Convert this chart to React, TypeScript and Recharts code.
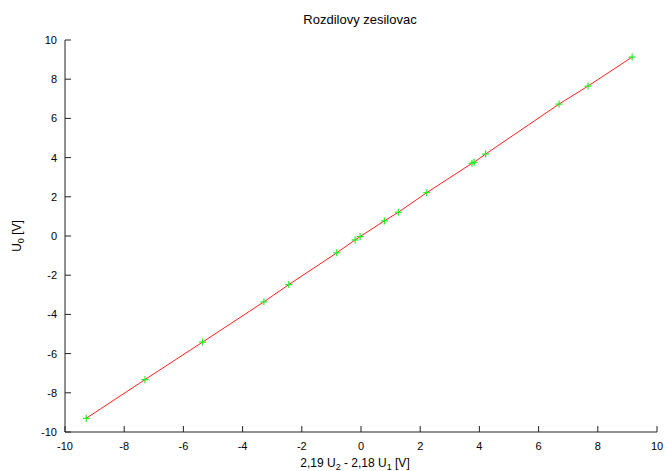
import React from 'react';
import { ComposedChart, Line, XAxis, YAxis, Label } from 'recharts';

// measured differences 2,19 U2 - 2,18 U1 and output U0
const diffInput = [-9.28, -7.3, -5.35, -3.28, -2.44, -0.82, -0.2, -0.03, 0.79, 1.26, 2.22, 3.75, 3.82, 4.21, 6.69, 7.67, 9.16];
const outputU0 = [-9.3, -7.33, -5.41, -3.36, -2.48, -0.86, -0.2, -0.03, 0.77, 1.21, 2.21, 3.71, 3.76, 4.18, 6.73, 7.65, 9.13];
const axisTicks = [-10, -8, -6, -4, -2, 0, 2, 4, 6, 8, 10];

const data = diffInput.map((x, i) => ({ x, y: outputU0[i] }));

const FONT = 'Liberation Sans, Arial, sans-serif';
const AXIS_COLOR = '#222';

const PlusDot: React.FC<any> = ({ cx, cy }) => {
  if (cx == null || cy == null) return null;
  return (
    <g stroke="#22ee22" strokeWidth={1.2}>
      <line x1={cx - 3.5} y1={cy} x2={cx + 3.5} y2={cy} />
      <line x1={cx} y1={cy - 3.5} x2={cx} y2={cy + 3.5} />
    </g>
  );
};

const XTick: React.FC<any> = ({ x, y, payload }) => (
  <g>
    <line x1={x} y1={y} x2={x} y2={y - 6} stroke={AXIS_COLOR} />
    <text x={x} y={y + 18} textAnchor="middle" fontSize={11} fontFamily={FONT} fill="#000">
      {payload.value}
    </text>
  </g>
);

const YTick: React.FC<any> = ({ x, y, payload }) => (
  <g>
    <line x1={x} y1={y} x2={x + 6} y2={y} stroke={AXIS_COLOR} />
    <text x={x - 8} y={y + 4} textAnchor="end" fontSize={11} fontFamily={FONT} fill="#000">
      {payload.value}
    </text>
  </g>
);

const XTitle: React.FC<any> = ({ viewBox }) => {
  const cx = viewBox.x + viewBox.width / 2;
  return (
    <text x={cx - 6} y={viewBox.y + 35} textAnchor="middle" fontSize={12} fontFamily={FONT} fill="#000">
      2,19 U<tspan fontSize={9} dy={3}>2</tspan>
      <tspan dy={-3}> - 2,18 U</tspan>
      <tspan fontSize={9} dy={3}>1</tspan>
      <tspan dy={-3}> [V]</tspan>
    </text>
  );
};

const YTitle: React.FC<any> = ({ viewBox }) => {
  const cy = viewBox.y + viewBox.height / 2;
  return (
    <text
      x={21}
      y={cy}
      transform={`rotate(-90, 21, ${cy})`}
      textAnchor="middle"
      fontSize={12}
      fontFamily={FONT}
      fill="#000"
    >
      U<tspan fontSize={9} dy={3}>0</tspan>
      <tspan dy={-3}> [V]</tspan>
    </text>
  );
};

export default function App() {
  return (
    <div style={{ position: 'absolute', left: 0, top: 0, background: '#fff' }}>
      <ComposedChart width={667} height={471} data={data} margin={{ top: 40, right: 10, bottom: 0, left: 0 }}>
        <text x={360} y={24} textAnchor="middle" fontSize={13} fontFamily={FONT} fill="#000">
          Rozdilovy zesilovac
        </text>
        <XAxis
          type="number"
          dataKey="x"
          domain={[-10, 10]}
          ticks={axisTicks}
          interval={0}
          allowDataOverflow
          height={39}
          tickLine={false}
          tickSize={0}
          tickMargin={0}
          tick={<XTick />}
          axisLine={{ stroke: AXIS_COLOR }}
        >
          <Label content={<XTitle />} />
        </XAxis>
        <YAxis
          type="number"
          domain={[-10, 10]}
          ticks={axisTicks}
          interval={0}
          allowDataOverflow
          width={65}
          tickLine={false}
          tickSize={0}
          tickMargin={0}
          tick={<YTick />}
          axisLine={{ stroke: AXIS_COLOR }}
        >
          <Label content={<YTitle />} />
        </YAxis>
        <Line
          type="linear"
          dataKey="y"
          stroke="#ff2020"
          strokeWidth={1}
          dot={<PlusDot />}
          activeDot={false}
          isAnimationActive={false}
        />
      </ComposedChart>
    </div>
  );
}
